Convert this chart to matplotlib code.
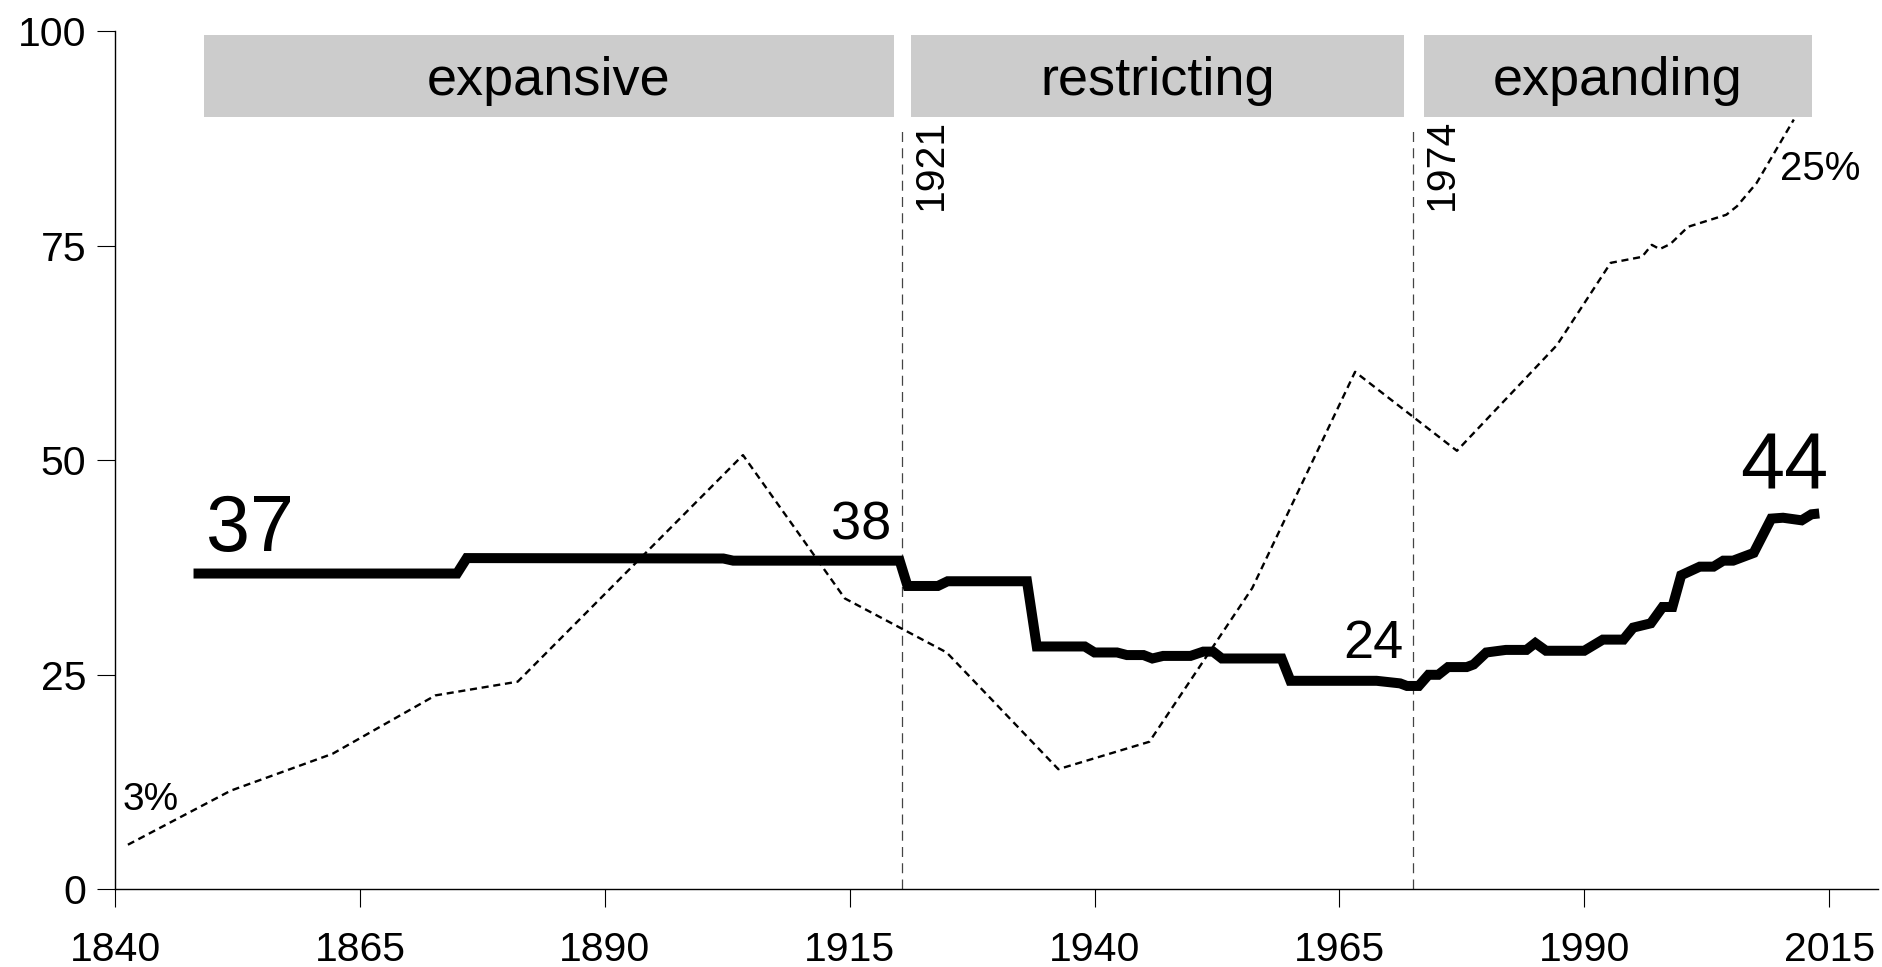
import matplotlib
matplotlib.use("Agg")

import matplotlib.pyplot as plt

plt.rcParams["font.family"] = ["Liberation Sans", "DejaVu Sans"]

# thick line (year, value)
main_years = [1848.0, 1874.9, 1875.9, 1902.1, 1903.1, 1920.1, 1920.9, 1924.0, 1925.0,
              1933.1, 1934.1, 1939.0, 1940.0, 1942.3, 1943.3, 1945.0, 1945.9, 1947.0,
              1949.8, 1951.1, 1952.1, 1953.0, 1959.1, 1960.0, 1968.8, 1971.2, 1971.9,
              1973.1, 1974.1, 1975.1, 1976.1, 1978.0, 1978.7, 1980.0, 1982.0, 1984.1,
              1985.0, 1986.1, 1990.0, 1991.9, 1994.0, 1995.0, 1996.8, 1998.0, 1999.0,
              1999.9, 2001.8, 2003.2, 2004.2, 2005.2, 2007.3, 2009.1, 2010.3, 2012.2,
              2013.2, 2014.0]
main_values = [36.8, 36.8, 38.6, 38.55, 38.3, 38.3, 35.35, 35.35, 35.9,
               35.9, 28.3, 28.3, 27.6, 27.6, 27.3, 27.3, 26.9, 27.2,
               27.2, 27.7, 27.7, 26.9, 26.9, 24.3, 24.3, 24.0, 23.7,
               23.7, 25.0, 25.0, 25.9, 25.9, 26.2, 27.6, 27.9, 27.9,
               28.7, 27.8, 27.8, 29.1, 29.1, 30.5, 31.0, 32.9, 32.9,
               36.6, 37.6, 37.6, 38.3, 38.3, 39.2, 43.2, 43.3, 43.0,
               43.7, 43.8]

# dashed line (plotted in the same 0-100 units as on the picture)
share_years = [1841.3, 1851.8, 1862.2, 1872.7, 1881.1, 1904.1, 1914.5, 1924.9,
               1936.3, 1945.6, 1956.1, 1966.6, 1977.0, 1987.2, 1992.7, 1995.9,
               1996.9, 1997.7, 1998.8, 2000.6, 2004.5, 2005.6, 2007.6, 2011.4]
share_values = [5.2, 11.5, 15.8, 22.6, 24.2, 50.6, 33.9, 27.6,
                14.0, 17.2, 35.1, 60.3, 51.1, 63.4, 73.0, 73.7,
                75.1, 74.6, 75.2, 77.2, 78.6, 79.6, 82.3, 89.7]

periods = ["expansive", "restricting", "expanding"]
period_start = [1849.1, 1921.25, 1973.6]
period_end = [1919.5, 1971.6, 2013.3]
box_bottom, box_top = 90.0, 99.6

break_years = [1920.3, 1972.5]
break_labels = ["1921", "1974"]

x_ticks = [1840, 1865, 1890, 1915, 1940, 1965, 1990, 2015]
y_ticks = [0, 25, 50, 75, 100]

fig = plt.figure(figsize=(18.82, 9.67), dpi=100)
ax = fig.add_axes([0.0612, 0.0803, 0.9367, 0.8875])

ax.plot(share_years, share_values, color="black", linewidth=1.7,
        linestyle=(0, (3, 2)), zorder=2)
ax.plot(main_years, main_values, color="black", linewidth=7.2,
        solid_capstyle="butt", solid_joinstyle="miter", zorder=3)

for x in break_years:
    ax.plot([x, x], [0, 89], color="#444444", linewidth=0.9,
            linestyle=(0, (8, 5)), zorder=1)
for x, lab in zip(break_years, break_labels):
    ax.text(x + 1.0, 89.8, lab, rotation=90, ha="left", va="top", fontsize=29.5)

for name, x0, x1 in zip(periods, period_start, period_end):
    ax.fill_between([x0, x1], box_bottom, box_top, color="#cccccc",
                    linewidth=0, zorder=4)
    ax.text((x0 + x1) / 2, 92.6, name, ha="center", va="baseline",
            fontsize=39, zorder=5)

# value labels
ax.text(1849.3, 39.4, "37", ha="left", va="baseline", fontsize=57)
ax.text(2014.9, 46.7, "44", ha="right", va="baseline", fontsize=57)
ax.text(1919.2, 40.8, "38", ha="right", va="baseline", fontsize=39)
ax.text(1971.5, 26.9, "24", ha="right", va="baseline", fontsize=39)
ax.text(1840.8, 9.2, "3%", ha="left", va="baseline", fontsize=28)
ax.text(2010.0, 82.7, "25%", ha="left", va="baseline", fontsize=29)

ax.set_xlim(1840, 2020)
ax.set_ylim(0, 100)
ax.set_xticks(x_ticks)
ax.set_yticks(y_ticks)
ax.tick_params(direction="out", length=13, width=0.8, labelsize=29.5)
ax.tick_params(axis="x", pad=17)
ax.tick_params(axis="y", pad=8)
ax.spines[["top", "right"]].set_visible(False)
ax.spines[["left", "bottom"]].set_linewidth(1.0)

fig.savefig("out.png", dpi=100, facecolor="white")
